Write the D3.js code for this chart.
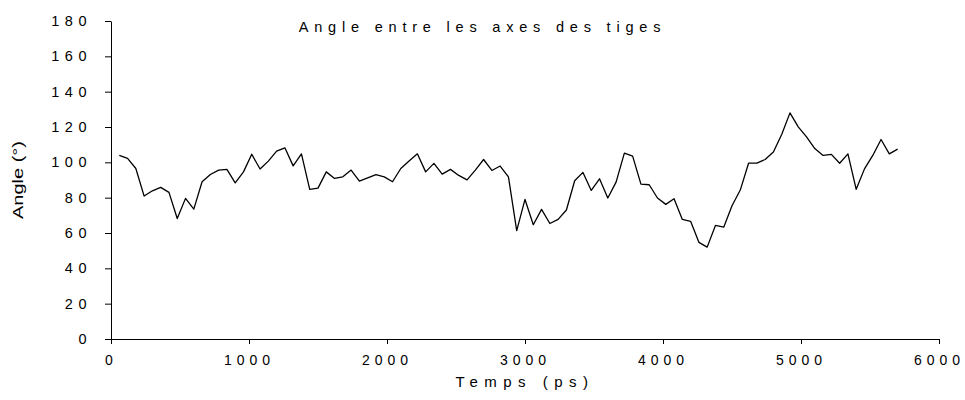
<!DOCTYPE html>
<html>
<head>
<meta charset="utf-8">
<script src="https://cdn.jsdelivr.net/npm/d3@7"></script>
<style>
  html, body { margin: 0; padding: 0; background: #fff; }
  svg { display: block; }
  text { font-family: "Liberation Sans", Arial, sans-serif; fill: #000; }
</style>
</head>
<body>
<div id="chart"></div>
<script>
// Angle between the rod axes over the simulation time
const timePs = [
  60, 120, 180, 240, 300, 360, 420, 480, 540, 600,
  660, 720, 780, 840, 900, 960, 1020, 1080, 1140, 1200,
  1260, 1320, 1380, 1440, 1500, 1560, 1620, 1680, 1740, 1800,
  1860, 1920, 1980, 2040, 2100, 2160, 2220, 2280, 2340, 2400,
  2460, 2520, 2580, 2640, 2700, 2760, 2820, 2880, 2940, 3000,
  3060, 3120, 3180, 3240, 3300, 3360, 3420, 3480, 3540, 3600,
  3660, 3720, 3780, 3840, 3900, 3960, 4020, 4080, 4140, 4200,
  4260, 4320, 4380, 4440, 4500, 4560, 4620, 4680, 4740, 4800,
  4860, 4920, 4980, 5040, 5100, 5160, 5220, 5280, 5340, 5400,
  5460, 5520, 5580, 5640, 5700
];
const angleDeg = [
  103.9, 102.2, 96.5, 80.9, 83.9, 85.8, 83.0, 68.2, 79.6, 73.5,
  89.0, 93.1, 95.6, 96.0, 88.4, 94.6, 104.6, 96.2, 100.7, 106.3,
  108.2, 98.0, 104.8, 84.7, 85.4, 94.6, 90.9, 91.8, 95.6, 89.4,
  91.2, 93.1, 91.8, 89.0, 96.5, 100.8, 104.8, 94.6, 99.4, 93.3,
  96.0, 92.6, 90.1, 95.6, 101.6, 95.4, 97.9, 91.8, 61.3, 79.0,
  64.7, 73.4, 65.4, 67.7, 73.0, 89.6, 94.3, 84.1, 90.7, 79.8,
  88.8, 105.2, 103.5, 87.7, 87.3, 79.8, 76.2, 79.4, 67.7, 66.6,
  54.7, 52.0, 64.3, 63.3, 75.4, 84.3, 99.5, 99.5, 101.6, 105.9,
  115.8, 128.0, 120.1, 114.4, 107.8, 103.9, 104.5, 99.5, 104.8, 84.7,
  96.3, 103.9, 112.9, 104.8, 107.5
];
const xTicks = [0, 1000, 2000, 3000, 4000, 5000, 6000];
const yTicks = [0, 20, 40, 60, 80, 100, 120, 140, 160, 180];
const titleText = "Angle entre les axes des tiges";
const xLabel = "Temps (ps)";
const yLabel = "Angle (°)";

const width = 965, height = 400;
const margin = { top: 21, right: 26, bottom: 61, left: 111 };

const svg = d3.select("#chart").append("svg")
  .attr("width", width)
  .attr("height", height);

const x = d3.scaleLinear().domain([0, 6000]).range([margin.left, width - margin.right]);
const y = d3.scaleLinear().domain([0, 180]).range([height - margin.bottom, margin.top]);

// x axis
const gx = svg.append("g")
  .attr("transform", `translate(0,${height - margin.bottom})`)
  .call(d3.axisBottom(x).tickValues(xTicks).tickFormat(d3.format("d"))
    .tickSize(5).tickSizeOuter(0).tickPadding(11));
gx.selectAll("text").attr("font-size", 14).attr("letter-spacing", 5)
  .attr("font-family", "Liberation Sans, Arial, sans-serif");

// y axis
const gy = svg.append("g")
  .attr("transform", `translate(${margin.left},0)`)
  .call(d3.axisLeft(y).tickValues(yTicks).tickFormat(d3.format("d"))
    .tickSize(6).tickSizeOuter(0).tickPadding(13));
gy.selectAll("text").attr("font-size", 14.5).attr("letter-spacing", 5.5)
  .attr("font-family", "Liberation Sans, Arial, sans-serif");

svg.selectAll(".domain, .tick line").attr("stroke", "#000").attr("stroke-width", 1);

// series line
const line = d3.line()
  .x((d, i) => x(timePs[i]))
  .y(d => y(d));

svg.append("path")
  .datum(angleDeg)
  .attr("fill", "none")
  .attr("stroke", "#000")
  .attr("stroke-width", 1.3)
  .attr("stroke-linejoin", "round")
  .attr("d", line);

// title
svg.append("text")
  .attr("x", width / 2)
  .attr("y", 32)
  .attr("text-anchor", "middle")
  .attr("font-size", 14.5)
  .attr("letter-spacing", 5.8)
  .text(titleText);

// axis titles
svg.append("text")
  .attr("x", (margin.left + width - margin.right) / 2)
  .attr("y", 387)
  .attr("text-anchor", "middle")
  .attr("font-size", 15)
  .attr("letter-spacing", 6.5)
  .text(xLabel);

svg.append("text")
  .attr("transform", `translate(23,${(margin.top + height - margin.bottom) / 2}) rotate(-90)`)
  .attr("text-anchor", "middle")
  .attr("font-size", 15.5)
  .attr("textLength", 78)
  .attr("lengthAdjust", "spacingAndGlyphs")
  .text(yLabel);
</script>
</body>
</html>
